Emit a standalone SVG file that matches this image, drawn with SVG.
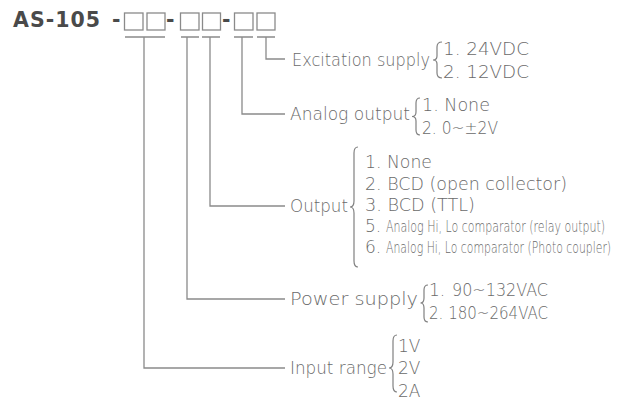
<svg xmlns="http://www.w3.org/2000/svg" width="617" height="402" viewBox="0 0 617 402">
<style>
.t{font-family:"DejaVu Sans","Liberation Sans",sans-serif;font-size:17px;fill:#6a6a6a;font-weight:200}
.c{font-family:"DejaVu Sans","Liberation Sans",sans-serif;font-size:16px;fill:#6a6a6a;font-weight:200}
.h{font-family:"DejaVu Sans","Liberation Sans",sans-serif;font-size:20.5px;font-weight:bold;fill:#4a4a4a}
.sq{fill:none;stroke:#8a8a8a;stroke-width:1.3}
.ln{fill:none;stroke:#8a8a8a;stroke-width:1.3}
.br{fill:none;stroke:#808080;stroke-width:1.2}
</style>
<rect width="617" height="402" fill="#ffffff"/>
<g id="title">
<text class="h" x="13" y="27" textLength="87" lengthAdjust="spacing">AS-105</text>
<text class="h" x="112" y="27">-</text>
<text class="h" x="166" y="27">-</text>
<text class="h" x="222" y="27">-</text>
<rect class="sq" x="124.5" y="13" width="18.5" height="17"/>
<rect class="sq" x="147" y="13" width="18" height="17"/>
<rect class="sq" x="180.5" y="13" width="18.5" height="17"/>
<rect class="sq" x="202.5" y="13" width="18" height="17"/>
<rect class="sq" x="234.5" y="13" width="18.5" height="17"/>
<rect class="sq" x="257" y="13" width="18" height="17"/>
</g>
<g id="connectors">
<path class="ln" d="M125 37H165M181 37H199M202 37H220M234 37H253M257 37H275"/>
<path class="ln" d="M266 37V59H285"/>
<path class="ln" d="M242 37V114H285"/>
<path class="ln" d="M210 37V206H285"/>
<path class="ln" d="M187 37V299H285"/>
<path class="ln" d="M144 37V368H285"/>
</g>
<g id="excitation">
<text class="t" x="292" y="65.5" textLength="138" lengthAdjust="spacingAndGlyphs">Excitation supply</text>
<path class="br" d="M442 42Q437 42 437 47V56Q437 60 433 60Q437 60 437 64V73Q437 78 442 78"/>
<text class="t" x="443" y="55" textLength="86" lengthAdjust="spacingAndGlyphs">1. 24VDC</text>
<text class="t" x="443" y="78" textLength="86" lengthAdjust="spacingAndGlyphs">2. 12VDC</text>
</g>
<g id="analog">
<text class="t" x="290" y="120" textLength="120" lengthAdjust="spacingAndGlyphs">Analog output</text>
<path class="br" d="M420 98Q416 98 416 103V112Q416 116.5 412 116.5Q416 116.5 416 121V130Q416 135 420 135"/>
<text class="t" x="422" y="111" textLength="68" lengthAdjust="spacingAndGlyphs">1. None</text>
<text class="t" x="422" y="134" textLength="76" lengthAdjust="spacingAndGlyphs">2. 0~±2V</text>
</g>
<g id="output">
<text class="t" x="290" y="212" textLength="58" lengthAdjust="spacingAndGlyphs">Output</text>
<path class="br" d="M358 147Q354 147 354 153V201Q354 207 350 207Q354 207 354 213V261Q354 267 358 267"/>
<text class="t" x="365" y="168" textLength="67" lengthAdjust="spacingAndGlyphs">1. None</text>
<text class="t" x="365" y="190" textLength="202" lengthAdjust="spacingAndGlyphs">2. BCD (open collector)</text>
<text class="t" x="365" y="211" textLength="110" lengthAdjust="spacingAndGlyphs">3. BCD (TTL)</text>
<text class="t" x="365" y="232">5.</text>
<text class="c" transform="translate(386 232) scale(0.67 1)" x="0" y="0" textLength="327" lengthAdjust="spacingAndGlyphs">Analog Hi, Lo comparator (relay output)</text>
<text class="t" x="365" y="253">6.</text>
<text class="c" transform="translate(386 253) scale(0.67 1)" x="0" y="0" textLength="336" lengthAdjust="spacingAndGlyphs">Analog Hi, Lo comparator (Photo coupler)</text>
</g>
<g id="power">
<text class="t" x="290" y="305" textLength="128" lengthAdjust="spacingAndGlyphs">Power supply</text>
<path class="br" d="M428 285Q424 285 424 290V298Q424 303 420.5 303Q424 303 424 308V317Q424 322 428 322"/>
<text class="t" x="429" y="295.5">1.</text>
<text class="t" x="452" y="295.5" textLength="96" lengthAdjust="spacingAndGlyphs">90~132VAC</text>
<text class="t" x="429" y="318.5" textLength="119" lengthAdjust="spacingAndGlyphs">2. 180~264VAC</text>
</g>
<g id="input">
<text class="t" x="290" y="374" textLength="97" lengthAdjust="spacingAndGlyphs">Input range</text>
<path class="br" d="M397 335Q393 335 393 341V362Q393 368 389 368Q393 368 393 374V386Q393 392 397 392"/>
<text class="t" x="398" y="352">1V</text>
<text class="t" x="398" y="374">2V</text>
<text class="t" x="398" y="396.5">2A</text>
</g>
</svg>
